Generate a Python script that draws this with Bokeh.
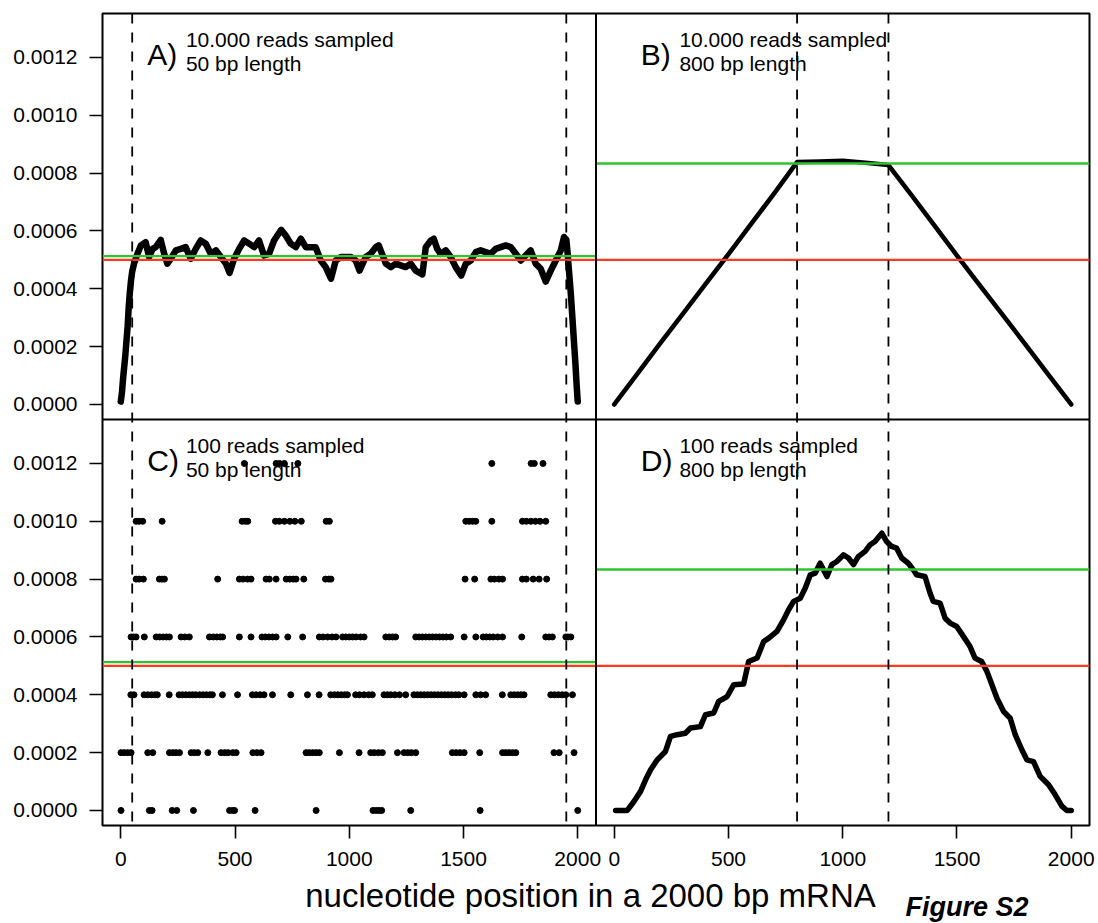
from bokeh.plotting import figure
from bokeh.models import (Range1d, FixedTicker, Span, CustomJSTickFormatter,
                          ColumnDataSource)
from bokeh.layouts import column
from bokeh.transform import dodge
from bokeh.embed import file_html
from bokeh.resources import INLINE
from bokeh.core.properties import value

FONT = "Liberation Sans"

# ---------------- data ----------------
x_ticks = [0, 500, 1000, 1500, 2000]
y_ticks = [0.0, 0.0002, 0.0004, 0.0006, 0.0008, 0.0010, 0.0012]

# panel A: 10.000 reads, 50 bp
a_pos = [0, 5, 10, 15, 20, 25, 30, 35, 40, 45, 50, 58, 73, 88, 109, 124, 139, 153, 175, 190,
         204, 219, 241, 263, 284, 306, 328, 350, 372, 394, 416, 438, 460, 476, 496, 518, 540,
         562, 584, 605, 627, 649, 671, 702, 722, 744, 766, 788, 810, 832, 853, 875, 897, 920,
         941, 963, 985, 1007, 1028, 1045, 1072, 1094, 1116, 1129, 1160, 1182, 1204, 1225,
         1247, 1269, 1291, 1320, 1335, 1357, 1370, 1385, 1400, 1422, 1444, 1466, 1490, 1510,
         1532, 1554, 1575, 1597, 1619, 1641, 1663, 1685, 1707, 1729, 1751, 1772, 1794, 1816,
         1838, 1860, 1882, 1904, 1926, 1940, 1950, 1955, 1960, 1965, 1970, 1975, 1980, 1985,
         1990, 1995, 2000]
a_cov = [0.00001, 0.00004, 0.00009, 0.00013, 0.00017, 0.00022, 0.00027, 0.00034, 0.00039,
         0.00043, 0.00046, 0.000487, 0.000521, 0.000550, 0.000561, 0.000510, 0.000538,
         0.000544, 0.000569, 0.000521, 0.000487, 0.000504, 0.000533, 0.000538, 0.000544,
         0.000504, 0.000538, 0.000567, 0.000556, 0.000521, 0.000533, 0.000510, 0.000487,
         0.000455, 0.000504, 0.000538, 0.000567, 0.000556, 0.000544, 0.000567, 0.000515,
         0.000521, 0.000567, 0.000604, 0.000584, 0.000556, 0.000544, 0.000573, 0.000544,
         0.000544, 0.000544, 0.000498, 0.000475, 0.000435, 0.000498, 0.000510, 0.000510,
         0.000510, 0.000498, 0.000463, 0.000510, 0.000521, 0.000544, 0.000550, 0.000487,
         0.000475, 0.000487, 0.000481, 0.000475, 0.000487, 0.000463, 0.000450, 0.000544,
         0.000567, 0.000573, 0.000538, 0.000521, 0.000533, 0.000510, 0.000475, 0.000446,
         0.000487, 0.000498, 0.000527, 0.000533, 0.000527, 0.000521, 0.000538, 0.000544,
         0.000550, 0.000544, 0.000521, 0.000498, 0.000515, 0.000533, 0.000487, 0.000469,
         0.000425, 0.000463, 0.000498, 0.000533, 0.000579, 0.000570, 0.000530, 0.000480,
         0.000430, 0.000380, 0.000320, 0.000260, 0.000200, 0.000140, 0.000070, 0.000010]

# panel B: 10.000 reads, 800 bp
b_pos = [0, 100, 200, 300, 400, 500, 600, 700, 800, 900, 1000, 1100, 1200, 1300, 1400,
         1500, 1600, 1700, 1800, 1900, 2000]
b_cov = [0.0, 0.000105, 0.000210, 0.000313, 0.000417, 0.000520, 0.000625, 0.000730,
         0.000838, 0.000840, 0.000843, 0.000836, 0.000828, 0.000725, 0.000620, 0.000515,
         0.000412, 0.000310, 0.000207, 0.000103, 0.0]

# panel C: 100 reads, 50 bp  (positions of the dots at each coverage level)
c_levels = [0.0, 0.0002, 0.0004, 0.0006, 0.0008, 0.0010, 0.0012]
c_pos_0 = [1, 125, 137, 225, 245, 318, 476, 490, 498, 588, 855, 1104, 1118, 1130, 1142,
           1269, 1573, 2000]
c_pos_1 = [1, 15, 30, 45, 118, 140, 213, 228, 242, 257, 308, 322, 337, 381, 439, 455, 470,
           490, 505, 578, 596, 614, 811, 825, 840, 855, 869, 957, 1043, 1094, 1110, 1128,
           1145, 1211, 1240, 1256, 1272, 1291, 1451, 1468, 1485, 1503, 1571, 1671, 1685,
           1700, 1715, 1729, 1896, 1919, 1984]
c_pos_2 = [44, 58, 102, 118, 135, 150, 160, 212, 255, 270, 285, 300, 314, 328, 345, 360,
           375, 390, 401, 445, 511, 576, 592, 610, 627, 664, 744, 817, 868, 919, 935, 950,
           965, 980, 992, 1028, 1045, 1065, 1085, 1101, 1152, 1167, 1182, 1200, 1220, 1247,
           1283, 1298, 1313, 1328, 1343, 1358, 1373, 1388, 1403, 1418, 1433, 1448, 1465,
           1480, 1503, 1554, 1575, 1597, 1670, 1707, 1722, 1737, 1752, 1765, 1882, 1898,
           1915, 1932, 1948, 1977]
c_pos_3 = [45, 55, 67, 103, 155, 170, 185, 200, 213, 264, 280, 300, 388, 405, 420, 435, 446,
           519, 570, 618, 632, 648, 665, 680, 731, 796, 869, 885, 905, 925, 942, 971, 985,
           1000, 1015, 1030, 1050, 1065, 1160, 1175, 1190, 1203, 1291, 1305, 1320, 1335,
           1350, 1365, 1380, 1395, 1410, 1425, 1444, 1503, 1554, 1586, 1600, 1615, 1630,
           1650, 1671, 1755, 1860, 1875, 1889, 1948, 1958, 1970]
c_pos_4 = [67, 80, 99, 169, 180, 191, 424, 519, 535, 555, 570, 636, 650, 680, 724, 740, 755,
           767, 801, 896, 910, 920, 1507, 1549, 1620, 1635, 1655, 1671, 1758, 1775, 1805,
           1831, 1864]
c_pos_5 = [67, 80, 96, 181, 531, 545, 556, 677, 694, 716, 740, 762, 790, 899, 913, 1510,
           1525, 1540, 1554, 1624, 1758, 1775, 1795, 1815, 1835, 1860]
c_pos_6 = [541, 680, 695, 716, 775, 1624, 1796, 1810, 1848]

# panel D: 100 reads, 800 bp
d_pos = [6, 57, 86, 115, 137, 159, 188, 224, 246, 275, 311, 333, 377, 399, 435, 457, 494,
         523, 566, 588, 625, 654, 676, 712, 741, 763, 785, 814, 836, 858, 880, 901, 931, 952,
         974, 1003, 1025, 1047, 1068, 1098, 1120, 1141, 1171, 1192, 1214, 1236, 1258, 1287,
         1309, 1323, 1360, 1382, 1396, 1426, 1448, 1470, 1499, 1528, 1557, 1579, 1608, 1631,
         1653, 1675, 1704, 1733, 1755, 1784, 1806, 1835, 1864, 1901, 1930, 1959, 1981, 2000]
d_cov = [0, 0, 0.000031, 0.000066, 0.000106, 0.000141, 0.000175, 0.000204, 0.000256,
         0.000262, 0.000267, 0.000285, 0.00029, 0.000331, 0.000337, 0.000377, 0.000394,
         0.000435, 0.000437, 0.000515, 0.000527, 0.000584, 0.000596, 0.000619, 0.000659,
         0.000694, 0.000723, 0.000734, 0.000769, 0.000815, 0.000821, 0.000855, 0.000809,
         0.00085, 0.000861, 0.000884, 0.000873, 0.00085, 0.000878, 0.000896, 0.000919,
         0.00093, 0.000959, 0.00093, 0.000913, 0.000907, 0.000873, 0.000855, 0.000832,
         0.000815, 0.000809, 0.000752, 0.000723, 0.000717, 0.000665, 0.000648, 0.000636,
         0.000602, 0.000567, 0.000527, 0.000515, 0.000481, 0.000435, 0.000388, 0.000342,
         0.000319, 0.000262, 0.00021, 0.000175, 0.000169, 0.000118, 0.000089, 0.000054,
         0.000015, 0, 0]

# reference levels: uniform expectation (red) and expectation inside the
# fully covered region (green)
red_level = 1 / 2000
green_short = 1 / 1950
green_long = 1 / 1200
dash_short = [50, 1950]
dash_long = [800, 1200]

panel_tags = ["A)", "B)", "C)", "D)"]
panel_line1 = ["10.000 reads sampled", "10.000 reads sampled",
               "100 reads sampled", "100 reads sampled"]
panel_line2 = ["50 bp length", "800 bp length", "50 bp length", "800 bp length"]

x_title = "nucleotide position in a 2000 bp mRNA"
fig_tag = "Figure S2"

# ---------------- layout ----------------
X_LO, X_HI = -80, 2080
Y_LO, Y_HI = -0.000052, 0.001352
XW = X_HI - X_LO
YH = Y_HI - Y_LO

RED = "#ff3a1c"
GREEN = "#2cc62c"

p = figure(frame_width=987, frame_height=812,
           x_range=Range1d(X_LO, X_HI + XW), y_range=Range1d(Y_LO, Y_HI + YH),
           min_border_left=102, min_border_right=9, min_border_top=13, min_border_bottom=50,
           output_backend="svg", toolbar_location=None, title=None,
           x_axis_location="below", y_axis_location="left")
p.grid.visible = False
p.background_fill_color = "white"
p.border_fill_color = "white"
p.outline_line_color = "black"
p.outline_line_width = 2

xt = list(x_ticks) + [t + XW for t in x_ticks]
yt = list(y_ticks) + [t + YH for t in y_ticks]
p.xaxis.ticker = FixedTicker(ticks=xt)
p.yaxis.ticker = FixedTicker(ticks=yt)
p.xaxis.formatter = CustomJSTickFormatter(
    code=f"const v = tick > {X_HI} ? tick - {XW} : tick; return Math.round(v).toString();")
p.yaxis.formatter = CustomJSTickFormatter(
    code=f"const v = tick > {Y_HI} ? tick - {YH} : tick; return (Math.round(v*1e4)/1e4).toFixed(4);")

for ax in (p.xaxis[0], p.yaxis[0]):
    ax.axis_line_color = None
    ax.major_tick_out = 13
    ax.major_tick_in = 0
    ax.minor_tick_out = 0
    ax.minor_tick_in = 0
    ax.major_tick_line_color = "black"
    ax.major_tick_line_width = 1.6
    ax.major_label_text_font = FONT
    ax.major_label_text_font_size = "21px"
    ax.major_label_text_color = "black"
p.yaxis.major_label_standoff = 12
p.xaxis.major_label_standoff = 13

# panel offsets (column, row) -> shift in data space via dodge transforms
offsets = [(0, YH), (XW, YH), (0, 0), (XW, 0)]


def add_texts(i):
    dx, dy = offsets[i]
    s1 = ColumnDataSource(dict(x=[116], y=[0.00121], t=[panel_tags[i]]))
    p.text(x=dodge("x", dx), y=dodge("y", dy), text="t", source=s1,
           text_font=value(FONT), text_font_size="30px", text_color="black",
           text_align="left", text_baseline="middle")
    s2 = ColumnDataSource(dict(x=[285, 285], y=[0.001262, 0.001178],
                               t=[panel_line1[i], panel_line2[i]]))
    p.text(x=dodge("x", dx), y=dodge("y", dy), text="t", source=s2,
           text_font=value(FONT), text_font_size="21px", text_color="black",
           text_align="left", text_baseline="middle")


def add_refs(i, green):
    dx, dy = offsets[i]
    s = ColumnDataSource(dict(x0=[X_LO, X_LO], x1=[X_HI, X_HI],
                              y=[green, red_level], c=[GREEN, RED]))
    p.segment(x0=dodge("x0", dx), x1=dodge("x1", dx), y0=dodge("y", dy), y1=dodge("y", dy),
              line_color="c", line_width=2.3, source=s)


for i in range(4):
    add_texts(i)

# A
dx, dy = offsets[0]
sA = ColumnDataSource(dict(x=a_pos, y=a_cov))
p.line(x=dodge("x", dx), y=dodge("y", dy), source=sA, line_color="black",
       line_width=6.5, line_join="round", line_cap="round")
p.scatter(x=dodge("x", dx), y=dodge("y", dy), source=sA, size=4, color="black")
add_refs(0, green_short)

# B
dx, dy = offsets[1]
sB = ColumnDataSource(dict(x=b_pos, y=b_cov))
p.line(x=dodge("x", dx), y=dodge("y", dy), source=sB, line_color="black",
       line_width=4.6, line_join="round", line_cap="round")
add_refs(1, green_long)

# C
dx, dy = offsets[2]
c_all = [c_pos_0, c_pos_1, c_pos_2, c_pos_3, c_pos_4, c_pos_5, c_pos_6]
cx, cy = [], []
for lvl, pos in zip(c_levels, c_all):
    cx += pos
    cy += [lvl] * len(pos)
sC = ColumnDataSource(dict(x=cx, y=cy))
p.scatter(x=dodge("x", dx), y=dodge("y", dy), source=sC, size=6, color="black")
add_refs(2, green_short)

# D
dx, dy = offsets[3]
sD = ColumnDataSource(dict(x=d_pos, y=d_cov))
p.line(x=dodge("x", dx), y=dodge("y", dy), source=sD, line_color="black",
       line_width=5.5, line_join="round", line_cap="round")
add_refs(3, green_long)

# dashed borders of the fully covered region (span both rows of each column)
for xv in dash_short:
    p.add_layout(Span(location=xv, dimension="height", line_color="black",
                      line_width=1.8, line_dash="10 9"))
for xv in dash_long:
    p.add_layout(Span(location=xv + XW, dimension="height", line_color="black",
                      line_width=1.8, line_dash="10 9"))

# panel dividers
p.add_layout(Span(location=X_HI, dimension="height", line_color="black", line_width=2))
p.add_layout(Span(location=Y_HI, dimension="width", line_color="black", line_width=2))

# ---------------- bottom strip: axis title and figure tag ----------------
STRIP_H = 48
strip = figure(frame_width=987, height=STRIP_H, x_range=Range1d(X_LO, X_HI + XW),
               y_range=Range1d(STRIP_H, 0), output_backend="svg",
               toolbar_location=None, title=None, x_axis_location=None,
               y_axis_location=None, min_border_left=102, min_border_right=9,
               min_border_top=0, min_border_bottom=0)
strip.grid.visible = False
strip.outline_line_color = None
strip.background_fill_color = "white"
strip.border_fill_color = "white"
strip.text(x=[2056], y=[19.5], text=[x_title], text_font=value(FONT),
           text_font_size="33px", text_color="black", text_align="center",
           text_baseline="middle")
strip.text(x=[3435], y=[31], text=[fig_tag], text_font=value(FONT),
           text_font_size="27px", text_font_style="bold italic", text_color="black",
           text_align="left", text_baseline="middle")

layout = column(p, strip, spacing=0)
open("out.html", "w").write(file_html(layout, INLINE))
